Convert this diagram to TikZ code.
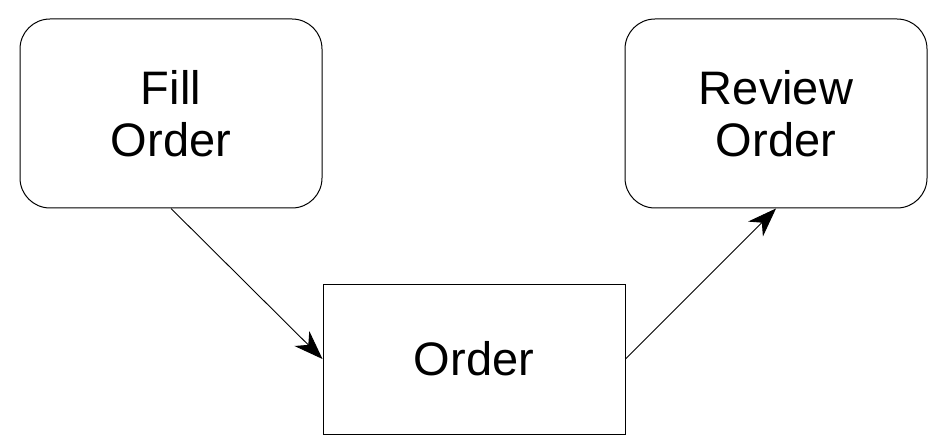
\documentclass[tikz,border=0pt]{standalone}
\usepackage{fontspec}
\setmainfont{Liberation Sans}
\usetikzlibrary{arrows.meta}
\begin{document}
\begin{tikzpicture}[x=1pt,y=-1pt,
  every node/.style={font=\fontsize{47}{52}\selectfont, align=center, inner sep=0pt, line width=1pt},
  task/.style={draw, rounded corners=30pt, minimum width=302pt, minimum height=189pt},
  object/.style={draw, minimum width=302pt, minimum height=150pt},
  flow/.style={line width=0.9pt, -{Stealth[length=29pt, width=21pt, inset=9pt]}}]
  \useasboundingbox (0,0) rectangle (944,446);
  \node[task] (fill) at (171,113.5) {Fill\\Order};
  \node[task] (review) at (776,113.5) {Review\\Order};
  \node[object] (order) at (474,359) {Order};
  \draw[flow] (fill.south) -- (order.west);
  \draw[flow] (order.east) -- (review.south);
\end{tikzpicture}
\end{document}
